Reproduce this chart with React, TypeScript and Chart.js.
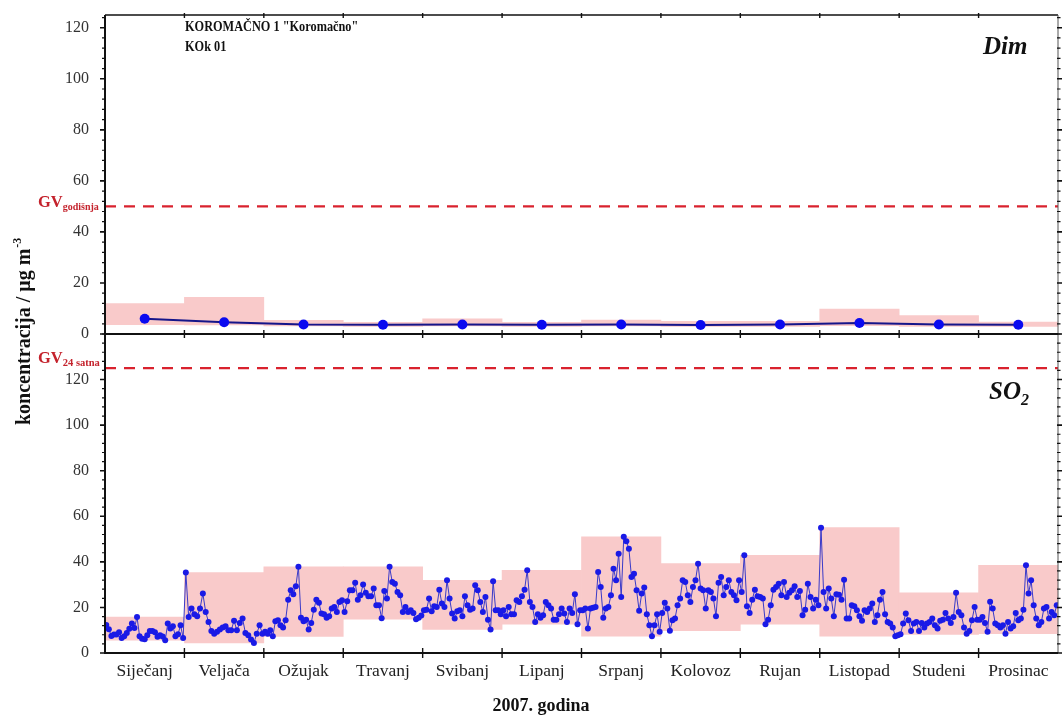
import React, { useEffect, useRef } from 'react';
import { Chart, registerables } from 'chart.js';

Chart.register(...registerables);

const MONTHS = ['Siječanj', 'Veljača', 'Ožujak', 'Travanj', 'Svibanj', 'Lipanj', 'Srpanj', 'Kolovoz', 'Rujan', 'Listopad', 'Studeni', 'Prosinac'];

// Dim (smoke) – monthly mean and monthly min/max range
const DIM_MEAN = [6.0, 4.6, 3.7, 3.6, 3.7, 3.6, 3.7, 3.5, 3.7, 4.3, 3.7, 3.6];
const DIM_MIN = [3.7, 3.6, 3.2, 3.0, 3.2, 3.0, 3.2, 3.0, 3.0, 3.3, 3.0, 3.0];
const DIM_MAX = [11.9, 14.4, 5.4, 4.6, 5.9, 4.6, 5.5, 5.0, 5.0, 9.8, 7.2, 4.7];

// SO2 daily values per month
const SO2_JAN = [12.3, 10.4, 7.5, 8.1, 8.1, 9.1, 6.6, 7.4, 8.8, 10.6, 12.9, 11.0, 15.8, 7.4, 6.3, 6.0, 7.8, 9.7, 9.7, 9.1, 7.1, 7.8, 7.2, 5.6, 12.9, 10.7, 11.7, 7.4, 8.2, 12.2, 6.6];
const SO2_FEB = [35.3, 15.8, 19.5, 17.0, 16.1, 19.5, 26.1, 18.0, 13.6, 9.7, 8.5, 9.3, 10.3, 11.2, 11.7, 10.0, 10.0, 14.1, 10.0, 13.2, 15.1, 8.8, 7.8, 5.9, 4.4, 8.5, 12.2, 8.5];
const SO2_MAR = [9.3, 8.5, 10.0, 7.3, 13.9, 14.4, 12.2, 11.2, 14.4, 23.4, 27.5, 25.8, 29.3, 37.8, 15.5, 13.9, 14.6, 10.3, 13.2, 19.0, 23.4, 22.0, 17.3, 17.0, 15.5, 16.1, 19.5, 20.2, 18.0, 22.4, 23.1];
const SO2_APR = [18.0, 22.7, 27.5, 27.5, 30.8, 23.4, 25.3, 30.1, 26.4, 24.9, 24.9, 28.3, 21.0, 21.0, 15.3, 27.2, 23.9, 37.8, 31.2, 30.4, 26.8, 25.3, 18.0, 20.2, 18.0, 18.8, 17.6, 14.8, 15.5, 16.5];
const SO2_MAY = [18.8, 19.0, 23.9, 18.3, 20.5, 20.2, 27.8, 21.7, 20.2, 31.9, 23.9, 17.3, 15.1, 18.3, 18.8, 16.1, 24.9, 21.0, 19.0, 19.5, 29.7, 27.5, 22.4, 18.0, 24.6, 14.6, 10.3, 31.5, 18.8, 18.8, 17.0];
const SO2_JUN = [18.8, 16.1, 20.2, 17.0, 17.0, 23.1, 22.4, 24.9, 27.8, 36.3, 22.4, 20.2, 13.6, 17.0, 15.5, 16.6, 22.4, 21.0, 19.5, 14.6, 14.6, 17.0, 19.5, 17.3, 13.6, 19.5, 17.6, 25.8, 12.6, 18.8];
const SO2_JUL = [18.8, 19.5, 10.7, 19.5, 19.9, 20.2, 35.6, 29.0, 15.5, 19.5, 20.2, 25.3, 37.0, 31.9, 43.6, 24.6, 51.0, 49.0, 45.8, 33.4, 34.8, 27.5, 18.5, 26.1, 28.7, 17.0, 12.2, 7.4, 12.2, 17.0, 9.3];
const SO2_AUG = [17.6, 22.0, 19.5, 9.8, 14.4, 15.1, 21.0, 23.9, 31.9, 31.2, 25.3, 22.4, 29.0, 31.9, 39.2, 28.3, 27.5, 19.5, 27.5, 26.8, 23.9, 16.1, 30.8, 33.4, 25.3, 29.0, 31.9, 26.8, 25.3, 23.1, 31.9];
const SO2_SEP = [26.8, 42.9, 20.5, 17.6, 23.4, 27.8, 24.9, 24.6, 23.9, 12.6, 14.6, 21.0, 27.8, 29.0, 30.4, 25.3, 31.2, 24.6, 26.4, 27.5, 29.3, 24.6, 27.2, 16.6, 19.0, 30.4, 24.6, 19.5, 23.4, 21.0];
const SO2_OCT = [55.0, 26.8, 19.5, 28.3, 23.9, 16.1, 25.8, 25.6, 23.4, 32.2, 15.1, 15.1, 21.0, 20.5, 18.8, 16.1, 14.1, 18.8, 18.0, 19.5, 21.7, 13.6, 16.6, 23.4, 26.8, 17.0, 13.6, 12.9, 11.2, 7.4, 7.8];
const SO2_NOV = [8.2, 12.9, 17.3, 14.4, 9.7, 12.9, 13.6, 9.7, 13.2, 11.2, 12.9, 13.6, 15.1, 12.2, 10.7, 14.1, 14.6, 17.6, 15.1, 13.2, 15.8, 26.4, 18.0, 16.6, 11.2, 8.5, 9.7, 14.4, 20.2, 14.6];
const SO2_DEC = [14.6, 15.8, 13.2, 9.3, 22.5, 19.5, 12.9, 12.2, 11.2, 12.2, 8.5, 13.6, 10.7, 11.7, 17.6, 14.4, 15.1, 19.0, 38.5, 26.1, 31.9, 21.0, 15.1, 12.2, 13.6, 19.5, 20.2, 15.1, 18.0, 16.6, 21.0];
const SO2_DAILY = [SO2_JAN, SO2_FEB, SO2_MAR, SO2_APR, SO2_MAY, SO2_JUN, SO2_JUL, SO2_AUG, SO2_SEP, SO2_OCT, SO2_NOV, SO2_DEC];

const Y_TICKS = [0, 20, 40, 60, 80, 100, 120];
const GV_DIM_ANNUAL = 50;
const GV_SO2_24H = 125;
const TOP_MAX = 125;
const BOT_MAX = 140;

const TITLE_1 = 'KOROMAČNO 1 "Koromačno"';
const TITLE_2 = 'KOk 01';
const Y_TITLE = 'koncentracija / μg m';
const X_TITLE = '2007. godina';

const SERIF = '"Liberation Serif", "Times New Roman", Times, serif';
const PINK = '#F9CACA';
const RED = '#D9222E';

const framePlugin = {
  id: 'frame',
  afterDatasetsDraw(chart: any) {
    const ctx = chart.ctx;
    const { left, right } = chart.chartArea;
    const yTop = chart.scales.yTop;
    const yBot = chart.scales.yBot;
    ctx.save();
    ctx.strokeStyle = RED;
    ctx.lineWidth = 2.2;
    ctx.setLineDash([11, 8]);
    [yTop.getPixelForValue(GV_DIM_ANNUAL), yBot.getPixelForValue(GV_SO2_24H)].forEach((y: number) => {
      ctx.beginPath();
      ctx.moveTo(left, y);
      ctx.lineTo(right, y);
      ctx.stroke();
    });
    ctx.restore();
  },
  afterDraw(chart: any) {
    const ctx = chart.ctx;
    const { left, right, top, bottom } = chart.chartArea;
    const x = chart.scales.x;
    const yTop = chart.scales.yTop;
    const yBot = chart.scales.yBot;
    const mid = yTop.bottom;
    ctx.save();
    ctx.strokeStyle = '#111';
    ctx.setLineDash([]);
    // frame
    ctx.lineWidth = 1.5;
    ctx.beginPath();
    ctx.moveTo(left, top); ctx.lineTo(right, top);
    ctx.stroke();
    ctx.lineWidth = 1;
    ctx.strokeStyle = '#555';
    ctx.beginPath();
    ctx.moveTo(right, top); ctx.lineTo(right, bottom);
    ctx.stroke();
    ctx.strokeStyle = '#111';
    ctx.lineWidth = 2;
    ctx.beginPath();
    ctx.moveTo(left, top); ctx.lineTo(left, bottom);
    ctx.moveTo(left, mid); ctx.lineTo(right, mid);
    ctx.moveTo(left - 1, bottom); ctx.lineTo(right, bottom);
    ctx.stroke();
    // y ticks
    const drawYTicks = (scale: any, max: number) => {
      for (let v = 0; v <= max; v += 4) {
        const y = scale.getPixelForValue(v);
        const major = v % 20 === 0 && v <= 120;
        ctx.lineWidth = major ? 1.6 : 1.2;
        ctx.beginPath();
        ctx.moveTo(left - (major ? 5 : 3), y); ctx.lineTo(left + 1, y);
        ctx.moveTo(right - 1, y); ctx.lineTo(right + (major ? 4 : 2.5), y);
        ctx.stroke();
      }
    };
    drawYTicks(yTop, TOP_MAX);
    drawYTicks(yBot, BOT_MAX);
    // x ticks at month boundaries
    ctx.lineWidth = 1.4;
    for (let m = 1; m < MONTHS.length; m++) {
      const px = x.getPixelForValue(m);
      ctx.beginPath();
      ctx.moveTo(px, bottom - 5); ctx.lineTo(px, bottom + 5);
      ctx.moveTo(px, mid - 4); ctx.lineTo(px, mid + 4);
      ctx.moveTo(px, top - 2); ctx.lineTo(px, top + 3);
      ctx.stroke();
    }
    // header text
    ctx.fillStyle = '#111';
    ctx.textBaseline = 'alphabetic';
    ctx.textAlign = 'left';
    ctx.save();
    ctx.translate(left + 80, top + 16);
    ctx.scale(0.82, 1);
    ctx.font = `bold 15px ${SERIF}`;
    ctx.fillText(TITLE_1, 0, 0);
    ctx.fillText(TITLE_2, 0, 20);
    ctx.restore();
    // panel names
    ctx.font = `italic bold 25px ${SERIF}`;
    ctx.fillText('Dim', right - 75, yTop.top + 39);
    ctx.fillText('SO', right - 69, yBot.top + 65);
    const soW = ctx.measureText('SO').width;
    ctx.font = `italic bold 16px ${SERIF}`;
    ctx.fillText('2', right - 69 + soW, yBot.top + 71);
    // GV labels
    const gv = (y: number, sub: string, subSize: number) => {
      ctx.fillStyle = '#C4222C';
      ctx.font = `bold 16.5px ${SERIF}`;
      ctx.fillText('GV', 38, y);
      const w = ctx.measureText('GV').width;
      ctx.font = `bold ${subSize}px ${SERIF}`;
      ctx.fillText(sub, 38 + w, y + 3);
    };
    gv(yTop.getPixelForValue(GV_DIM_ANNUAL) + 0.5, 'godišnja', 10);
    gv(yBot.getPixelForValue(GV_SO2_24H) - 5.5, '24 satna', 10.5);
    // axis titles
    ctx.fillStyle = '#111';
    ctx.save();
    ctx.translate(30, 425);
    ctx.rotate(-Math.PI / 2);
    ctx.font = `bold 20px ${SERIF}`;
    ctx.fillText(Y_TITLE, 0, 0);
    const tw = ctx.measureText(Y_TITLE).width;
    ctx.font = `bold 12px ${SERIF}`;
    ctx.fillText('-3', tw + 1, -9);
    ctx.restore();
    ctx.font = `bold 18px ${SERIF}`;
    ctx.textAlign = 'center';
    ctx.fillText(X_TITLE, 541, 711);
    ctx.restore();
  },
};

export default function App() {
  const canvasRef = useRef<HTMLCanvasElement | null>(null);

  useEffect(() => {
    const canvas = canvasRef.current;
    if (!canvas) return;
    const dimBoxes = MONTHS.map((_, i) => ({ x: i + 0.5, y: [DIM_MIN[i], DIM_MAX[i]] }));
    const dimPoints = MONTHS.map((_, i) => ({ x: i + 0.5, y: DIM_MEAN[i] }));
    const so2Boxes = SO2_DAILY.map((arr, m) => ({ x: m + 0.5, y: [Math.min(...arr), Math.max(...arr)] }));
    const so2Points = SO2_DAILY.flatMap((arr, m) => arr.map((v, d) => ({ x: m + (d + 0.5) / arr.length, y: v })));

    const yCommon = (max: number) => ({
      type: 'linear' as const,
      position: 'left' as const,
      stack: 'panels',
      stackWeight: 1,
      min: 0,
      max,
      grid: { display: false, drawTicks: false },
      border: { display: false },
      afterBuildTicks: (s: any) => { s.ticks = Y_TICKS.map((v) => ({ value: v })); },
      afterFit: (s: any) => { s.width = 105; s.paddingTop = 0; s.paddingBottom = 0; },
      ticks: { padding: 16, color: '#333', font: { family: SERIF, size: 16 } },
    });

    const chart = new Chart(canvas, {
      type: 'line',
      data: {
        datasets: [
          { type: 'line', data: dimPoints, xAxisID: 'x', yAxisID: 'yTop', borderColor: '#15158A', borderWidth: 2, pointRadius: 5, pointBackgroundColor: '#0A0AF0', pointBorderWidth: 0, tension: 0, order: 1 } as any,
          { type: 'line', data: so2Points, xAxisID: 'x', yAxisID: 'yBot', borderColor: '#3A3AC8', borderWidth: 1, pointRadius: 3, pointBackgroundColor: '#1A1AE6', pointBorderWidth: 0, tension: 0, order: 2 } as any,
          { type: 'bar', data: dimBoxes, xAxisID: 'x', yAxisID: 'yTop', backgroundColor: PINK, borderWidth: 0, barPercentage: 1, categoryPercentage: 1, stack: 'm', order: 3 } as any,
          { type: 'bar', data: so2Boxes, xAxisID: 'x', yAxisID: 'yBot', backgroundColor: PINK, borderWidth: 0, barPercentage: 1, categoryPercentage: 1, stack: 'm', order: 4 } as any,
        ],
      },
      options: {
        responsive: true,
        maintainAspectRatio: false,
        animation: false,
        layout: { padding: { top: 15, right: 3, left: 0, bottom: 0 } },
        plugins: { legend: { display: false }, tooltip: { enabled: false } },
        scales: {
          x: {
            type: 'linear',
            min: 0,
            max: 12,
            offset: false,
            position: 'bottom',
            grid: { display: false, drawTicks: false },
            border: { display: false },
            afterBuildTicks: (s: any) => { s.ticks = MONTHS.map((_, i) => ({ value: i + 0.5 })); },
            afterFit: (s: any) => { s.height = 67; s.paddingLeft = 0; s.paddingRight = 0; },
            ticks: {
              autoSkip: false,
              maxRotation: 0,
              padding: 8,
              color: '#222',
              font: { family: SERIF, size: 17.5 },
              callback: (v: any) => MONTHS[Math.floor(Number(v))],
            },
          },
          yBot: yCommon(BOT_MAX),
          yTop: yCommon(TOP_MAX),
        } as any,
      },
      plugins: [framePlugin],
    });
    return () => chart.destroy();
  }, []);

  return (
    <div style={{ position: 'absolute', left: 0, top: 0, width: 1063, height: 720, background: '#fff' }}>
      <canvas ref={canvasRef} />
    </div>
  );
}
